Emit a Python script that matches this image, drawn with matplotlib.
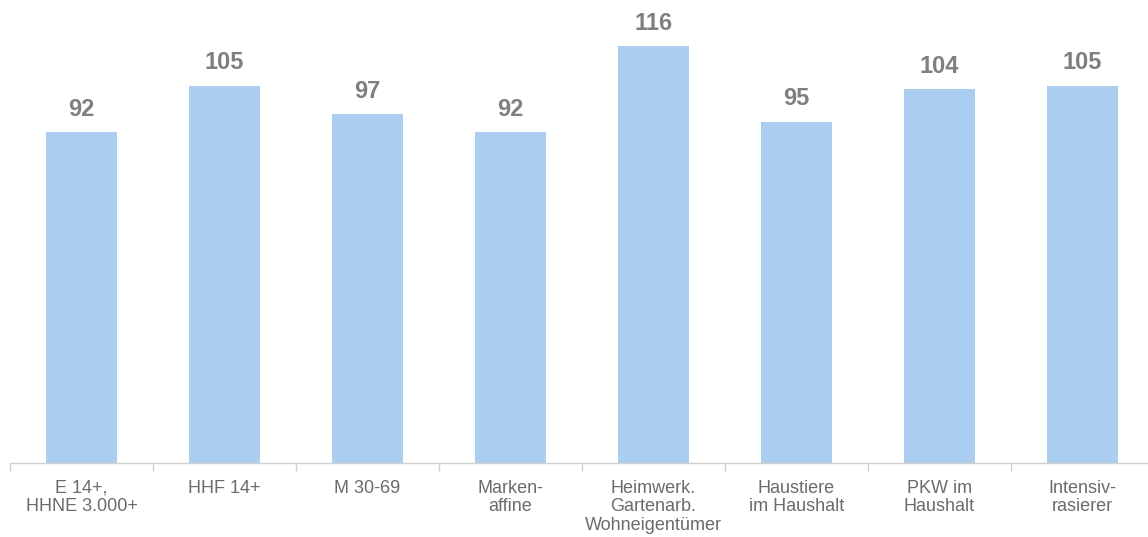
import matplotlib.pyplot as plt
from matplotlib.ticker import FixedLocator

categories = ["E 14+,\nHHNE 3.000+", "HHF 14+", "M 30-69", "Marken-\naffine",
              "Heimwerk.\nGartenarb.\nWohneigentümer", "Haustiere\nim Haushalt",
              "PKW im\nHaushalt", "Intensiv-\nrasierer"]
values = [92, 105, 97, 92, 116, 95, 104, 105]

plt.rcParams['font.family'] = ['Liberation Sans', 'DejaVu Sans']

fig = plt.figure(figsize=(11.48, 5.37), dpi=100)
ax = fig.add_axes([10 / 1148, 74 / 537, 1144 / 1148, 463 / 537])

x = list(range(len(values)))
bars = ax.bar(x, values, width=0.5, color='#abcdf0')
ax.bar_label(bars, labels=[str(v) for v in values], padding=8,
             fontsize=17, fontweight='bold', color='#7f7f7f')

ax.set_xlim(-0.5, len(values) - 0.5)
ax.set_ylim(0, 128.8)
ax.set_yticks([])
for s in ['top', 'right', 'left']:
    ax.spines[s].set_visible(False)
ax.spines['bottom'].set_color('#d0d0d0')
ax.spines['bottom'].set_linewidth(1)

ax.set_xticks(x)
ax.set_xticklabels(categories, fontsize=13, color='#6b6b6b', linespacing=1.13)
ax.tick_params(axis='x', which='major', length=0, pad=12)
ax.xaxis.set_minor_locator(FixedLocator([i - 0.5 for i in range(len(values) + 1)]))
ax.tick_params(axis='x', which='minor', length=6, color='#d0d0d0', width=1)

fig.savefig('out.png', dpi=100)
